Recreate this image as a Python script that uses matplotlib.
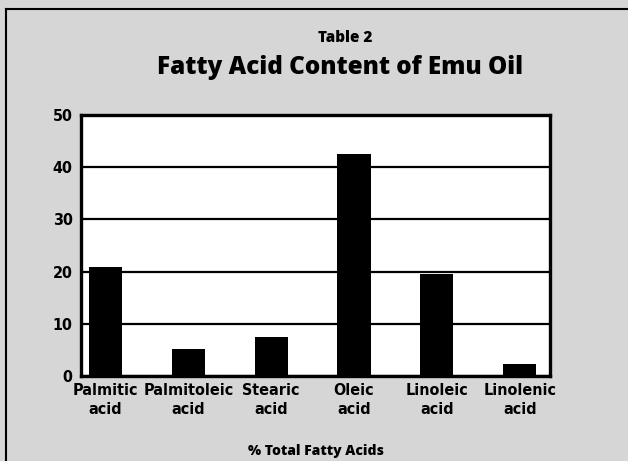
import numpy as np
import matplotlib
matplotlib.use('Agg')
import matplotlib.pyplot as plt
from matplotlib.lines import Line2D

acids = ["Palmitic\nacid", "Palmitoleic\nacid", "Stearic\nacid",
         "Oleic\nacid", "Linoleic\nacid", "Linolenic\nacid"]
percent = [20.8, 5.2, 7.5, 42.5, 19.6, 2.3]
yticks = [0, 10, 20, 30, 40, 50]

bg = '#d6d6d6'
fig = plt.figure(figsize=(6.28, 4.61), dpi=100, facecolor=bg)
ax = fig.add_axes([0.129, 0.1844, 0.747, 0.566])
ax.set_facecolor('white')

x = np.arange(len(acids))
ax.bar(x, percent, width=0.4, color='black', zorder=3)

ax.set_xlim(-0.295, 5.367)
ax.set_ylim(0, 50)
ax.set_yticks(yticks)
ax.yaxis.grid(True, color='black', linewidth=1.6, zorder=1)
ax.set_axisbelow(True)
for s in ax.spines.values():
    s.set_linewidth(2.4)
ax.tick_params(length=0)
ax.set_xticks(x)
ax.set_xticklabels(acids, fontfamily='DejaVu Sans', fontstretch='condensed',
                   fontweight='bold', fontsize=11.5, linespacing=1.3)
for lab in ax.get_yticklabels():
    lab.set_fontfamily('DejaVu Sans')
    lab.set_fontstretch('condensed')
    lab.set_fontweight('bold')
    lab.set_fontsize(11.5)
ax.tick_params(axis='x', pad=5)
ax.tick_params(axis='y', pad=6)
ax.set_xlabel("% Total Fatty Acids", fontfamily='Open Sans', fontweight='heavy',
              fontsize=10, labelpad=20)

fig.text(0.55, 0.917, "Table 2", ha='center', va='center',
         fontfamily='Open Sans', fontweight='heavy', fontsize=11)
fig.text(0.541, 0.853, "Fatty Acid Content of Emu Oil", ha='center', va='center',
         fontfamily='Open Sans', fontweight='heavy', fontsize=17.5)

# frame lines of the scanned box
fig.add_artist(Line2D([0.010, 0.010], [0.0, 0.981], color='black', linewidth=1.5,
                      transform=fig.transFigure))
fig.add_artist(Line2D([0.010, 1.0], [0.981, 0.981], color='black', linewidth=1.5,
                      transform=fig.transFigure))

fig.savefig('out.png', dpi=100, facecolor=bg)
